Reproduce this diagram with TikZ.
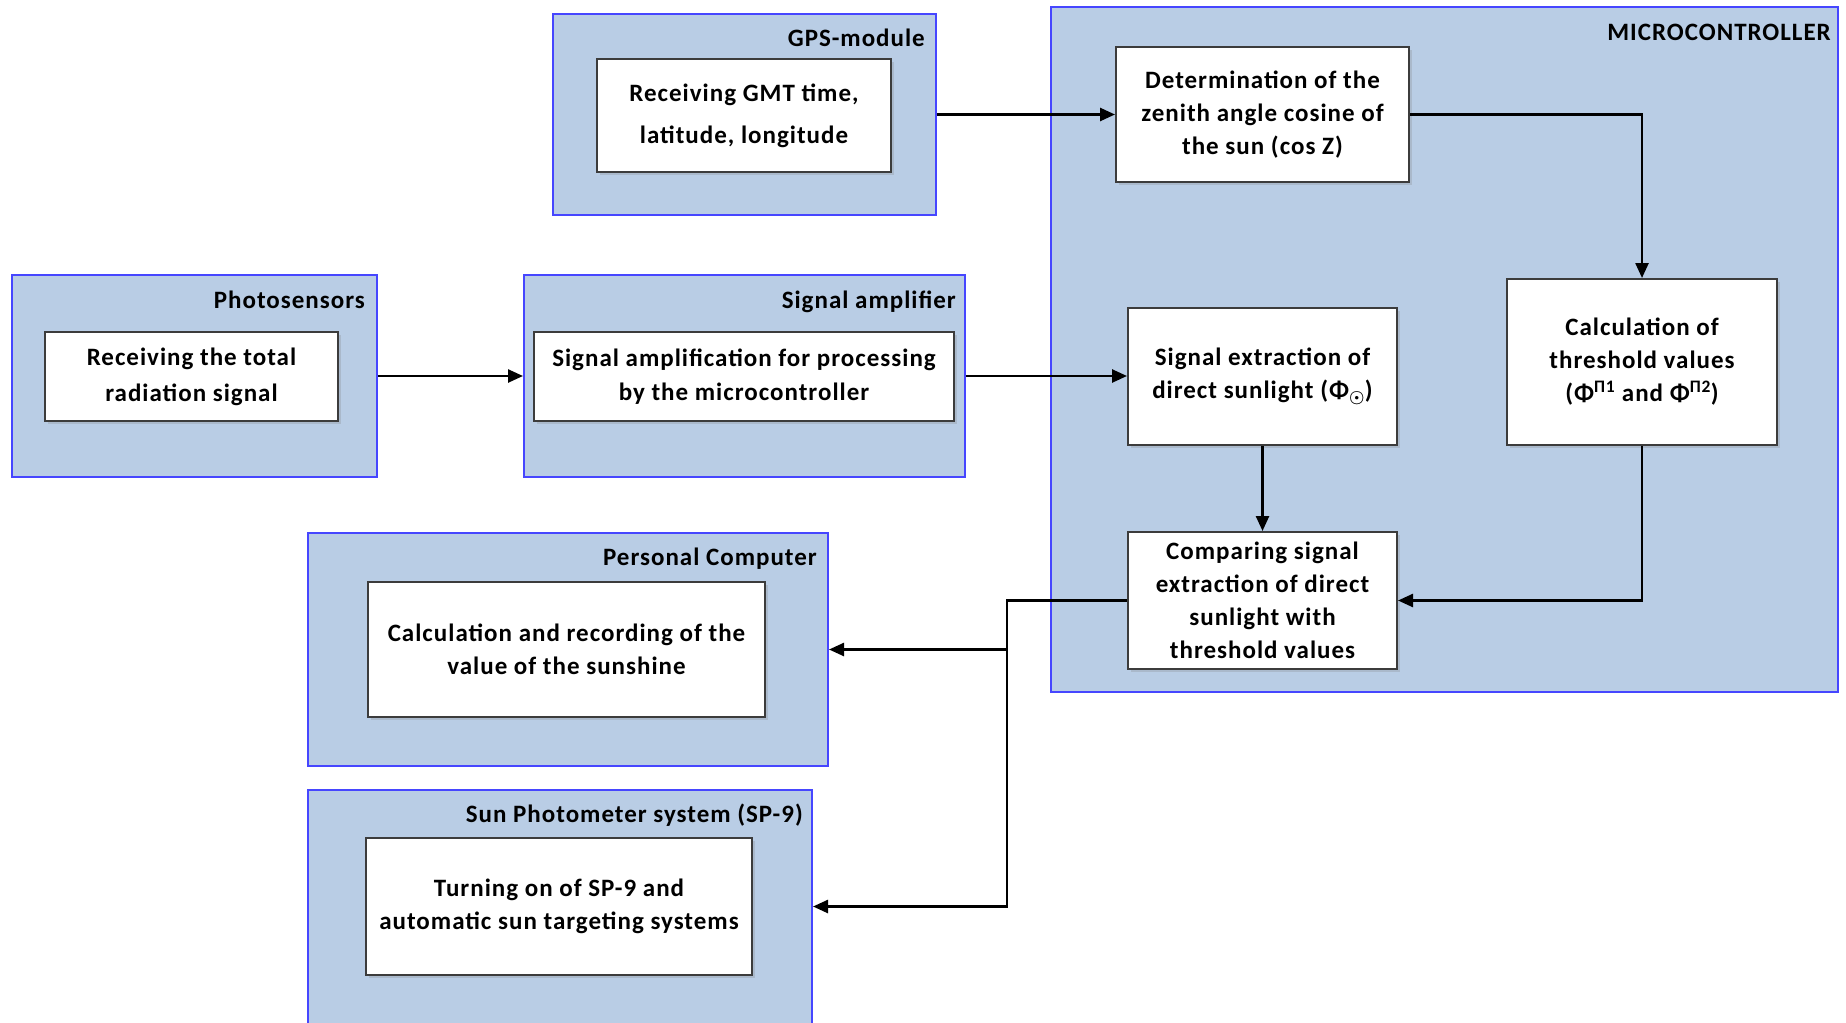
\documentclass[tikz,border=0pt]{standalone}
\usepackage{fontspec}
\setmainfont{Carlito}[LetterSpace=4]
\usetikzlibrary{arrows.meta}
\usetikzlibrary{shadows}
\definecolor{groupfill}{RGB}{185,205,229}
\definecolor{groupline}{RGB}{70,70,255}
\definecolor{boxline}{RGB}{60,60,60}

\begin{document}
\begin{tikzpicture}[x=1pt, y=-1pt,
      groupbox/.style={draw=groupline, line width=2pt, fill=groupfill, inner sep=0pt},
          grouplabel/.style={anchor=base east, inner sep=0pt, font=\fontsize{25}{28}\selectfont\bfseries},
      block/.style={draw=boxline, line width=2pt, fill=white, align=center, inner sep=0pt,
          font=\fontsize{25}{33}\selectfont\bfseries,
          drop shadow={opacity=0.25, shadow xshift=3pt, shadow yshift=-3pt}},
      flow/.style={line width=2.5pt, -{Triangle[length=15pt,width=13pt]}},
      ]
        \clip (0,0) rectangle (1846,1022);

        % GPS module
        \node[groupbox, minimum width=383pt, minimum height=201pt] (gps) at (744.5,114.5) {};
        \node[grouplabel] (gps-label) at (925,47) {GPS-module};
        \node[block, minimum width=294pt, minimum height=113pt, font=\fontsize{25}{42}\selectfont\bfseries]
            (gps-in) at (744,115.5) {Receiving GMT time,\\latitude, longitude};

        % microcontroller
        \node[groupbox, minimum width=787pt, minimum height=685pt] (mcu) at (1444.5,349.5) {};
        \node[grouplabel] (mcu-label) at (1831,41) {MICROCONTROLLER};
        \node[block, minimum width=293pt, minimum height=135pt] (zenith) at (1262.5,114.5)
            {Determination of the\\zenith angle cosine of\\the sun (cos Z)};
        \node[block, minimum width=269pt, minimum height=137pt] (direct) at (1262.5,376.5)
            {Signal extraction of\\direct sunlight (Φ{\boldmath$_{\odot}$})};
        \node[block, minimum width=270pt, minimum height=166pt] (threshold) at (1642,362)
            {Calculation of\\threshold values\\(Φ\textsuperscript{П1} and Φ\textsuperscript{П2})};
        \node[block, minimum width=269pt, minimum height=137pt] (compare) at (1262.5,600.5)
            {Comparing signal\\extraction of direct\\sunlight with\\threshold values};

        % photosensors
        \node[groupbox, minimum width=365pt, minimum height=202pt] (photo) at (194.5,376) {};
        \node[grouplabel] (photo-label) at (365,308) {Photosensors};
        \node[block, minimum width=293pt, minimum height=89pt, font=\fontsize{25}{36}\selectfont\bfseries]
            (photo-in) at (191.5,376.5) {Receiving the total\\radiation signal};

        % signal amplifier
        \node[groupbox, minimum width=441pt, minimum height=202pt] (amp) at (744.5,376) {};
        \node[grouplabel] (amp-label) at (956,308) {Signal amplifier};
        \node[block, minimum width=420pt, minimum height=89pt, font=\fontsize{25}{34}\selectfont\bfseries]
            (amp-in) at (744,376.5) {Signal amplification for processing\\by the microcontroller};

        % personal computer
        \node[groupbox, minimum width=520pt, minimum height=233pt] (pc) at (568,649.5) {};
        \node[grouplabel] (pc-label) at (817,565) {Personal Computer};
        \node[block, minimum width=397pt, minimum height=135pt] (pc-in) at (566.5,649.5)
            {Calculation and recording of the\\value of the sunshine};

        % sun photometer
        \node[groupbox, minimum width=504pt, minimum height=310pt] (sp) at (560,945) {};
        \node[grouplabel] (sp-label) at (803,822) {Sun Photometer system (SP-9)};
        \node[block, minimum width=386pt, minimum height=137pt] (sp-in) at (559,906.5)
            {Turning on of SP-9 and\\automatic sun targeting systems};

        % connectors
        \draw[flow] (gps.east) -- (gps.east -| zenith.west);
        \draw[flow] (zenith.east) -| (threshold.north);
        \draw[flow] (photo.east) -- (photo.east -| amp.west);
        \draw[flow] (amp.east) -- (amp.east -| direct.west);
        \draw[flow] (direct.south) -- (compare.north);
        \draw[flow] (threshold.south) |- (compare.east);

        \coordinate (split) at (1007,600.5);
        \draw[flow] (compare.west) -- (split) |- (sp-in.east -| sp.east);
        \draw[flow] (split) |- (pc.east);

        \end{tikzpicture}
\end{document}
